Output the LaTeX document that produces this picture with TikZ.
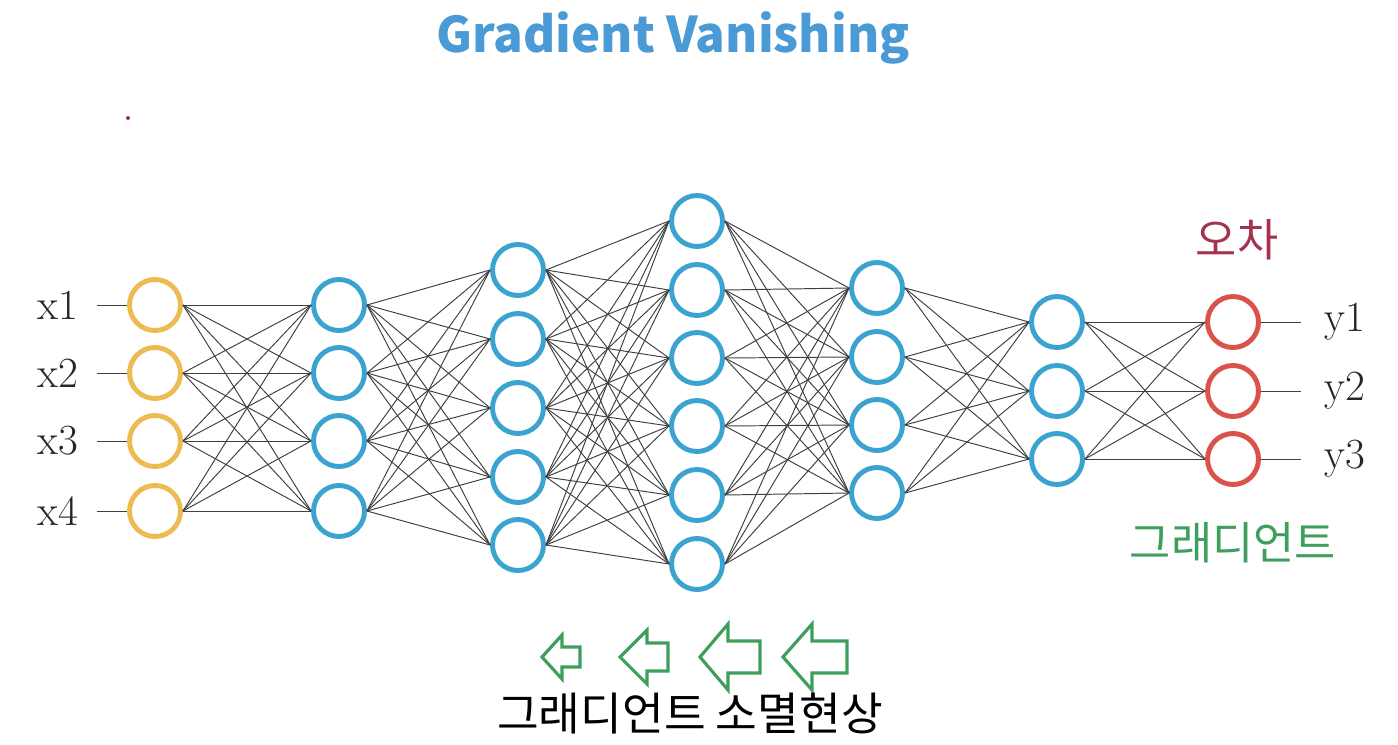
\documentclass[tikz,border=0pt]{standalone}
\usepackage{fontspec}
\newfontfamily\kofont{Noto Sans CJK KR}
\usetikzlibrary{positioning}
\definecolor{titleblue}{HTML}{4A9AD6}
\definecolor{nodeblue}{HTML}{3AA3D0}
\definecolor{nodeorange}{HTML}{EDBB52}
\definecolor{nodered}{HTML}{D9534A}
\definecolor{errred}{HTML}{A3334E}
\definecolor{gradgreen}{HTML}{3E9E5C}

\begin{document}
\begin{tikzpicture}[x=0.02cm, y=-0.02cm,
    neuron/.style={circle, draw=nodeblue, fill=white, line width=2.8pt, minimum size=1.02cm, inner sep=0pt},
    edge/.style={black!75, line width=0.55pt},
    io/.style={font=\fontsize{24.5}{28}\selectfont, text=black!85},
    ko/.style={font=\kofont\fontsize{25.5}{30}\selectfont},
    back/.style={draw=gradgreen, line width=1.8pt, line join=miter}
  ]
  \useasboundingbox (0,0) rectangle (1398,744);

  \node[font=\kofont\bfseries\fontsize{28}{32}\selectfont, text=titleblue] (title) at (673,38) {Gradient Vanishing};
  \fill[errred] (128,118) circle (2);

  % layers
  \foreach \y [count=\i] in {305,373,441,511}
    \node[neuron, draw=nodeorange] (a\i) at (155,\y) {};
  \foreach \y [count=\i] in {305,373,441,511}
    \node[neuron] (b\i) at (339,\y) {};
  \foreach \y [count=\i] in {270,339,408,477,545}
    \node[neuron] (c\i) at (518,\y) {};
  \foreach \y [count=\i] in {221,290,358,426,495,564}
    \node[neuron] (d\i) at (697,\y) {};
  \foreach \y [count=\i] in {288,357,425,493}
    \node[neuron] (e\i) at (877,\y) {};
  \foreach \y [count=\i] in {322,391,459}
    \node[neuron] (f\i) at (1057,\y) {};
  \foreach \y [count=\i] in {322,391,459}
    \node[neuron, draw=nodered] (g\i) at (1233,\y) {};

  % connections
  \foreach \i in {1,...,4}
    \foreach \j in {1,...,4}
      \draw[edge] (a\i.east) -- (b\j.west);
  \foreach \i in {1,...,4}
    \foreach \j in {1,...,5}
      \draw[edge] (b\i.east) -- (c\j.west);
  \foreach \i in {1,...,5}
    \foreach \j in {1,...,6}
      \draw[edge] (c\i.east) -- (d\j.west);
  \foreach \i in {1,...,6}
    \foreach \j in {1,...,4}
      \draw[edge] (d\i.east) -- (e\j.west);
  \foreach \i in {1,...,4}
    \foreach \j in {1,...,3}
      \draw[edge] (e\i.east) -- (f\j.west);
  \foreach \i in {1,...,3}
    \foreach \j in {1,...,3}
      \draw[edge] (f\i.east) -- (g\j.west);

  % inputs and outputs
  \foreach \i in {1,...,4} {
    \coordinate (xin\i) at ([xshift=-30*0.02cm]a\i.west);
    \node[io] (xl\i) at ([xshift=-69*0.02cm]a\i.west) {x\i};
    \draw[edge] (xin\i) -- (a\i.west);
  }
  \foreach \i in {1,...,3} {
    \coordinate (yout\i) at ([xshift=40*0.02cm]g\i.east);
    \node[io] (yl\i) at ([xshift=84*0.02cm]g\i.east) {y\i};
    \draw[edge] (g\i.east) -- (yout\i);
  }

  \node[ko, text=errred] (err) at (1237,240) {오차};
  \node[ko, text=gradgreen] (grad) at (1233,543) {그래디언트};

  % backward arrows
  \foreach \xt/\xb/\xe/\h/\s in {542/562/580/22/10, 620/647/668/27/14, 700/728/760/33/16, 783/812/847/33/16}
    \draw[back] (\xt,657) -- (\xb,657-\h) -- (\xb,657-\s) -- (\xe,657-\s)
      -- (\xe,657+\s) -- (\xb,657+\s) -- (\xb,657+\h) -- cycle;

  \node[ko, font=\kofont\fontsize{25.8}{30}\selectfont] (vanish) at (690,714) {그래디언트 소멸현상};
\end{tikzpicture}
\end{document}
